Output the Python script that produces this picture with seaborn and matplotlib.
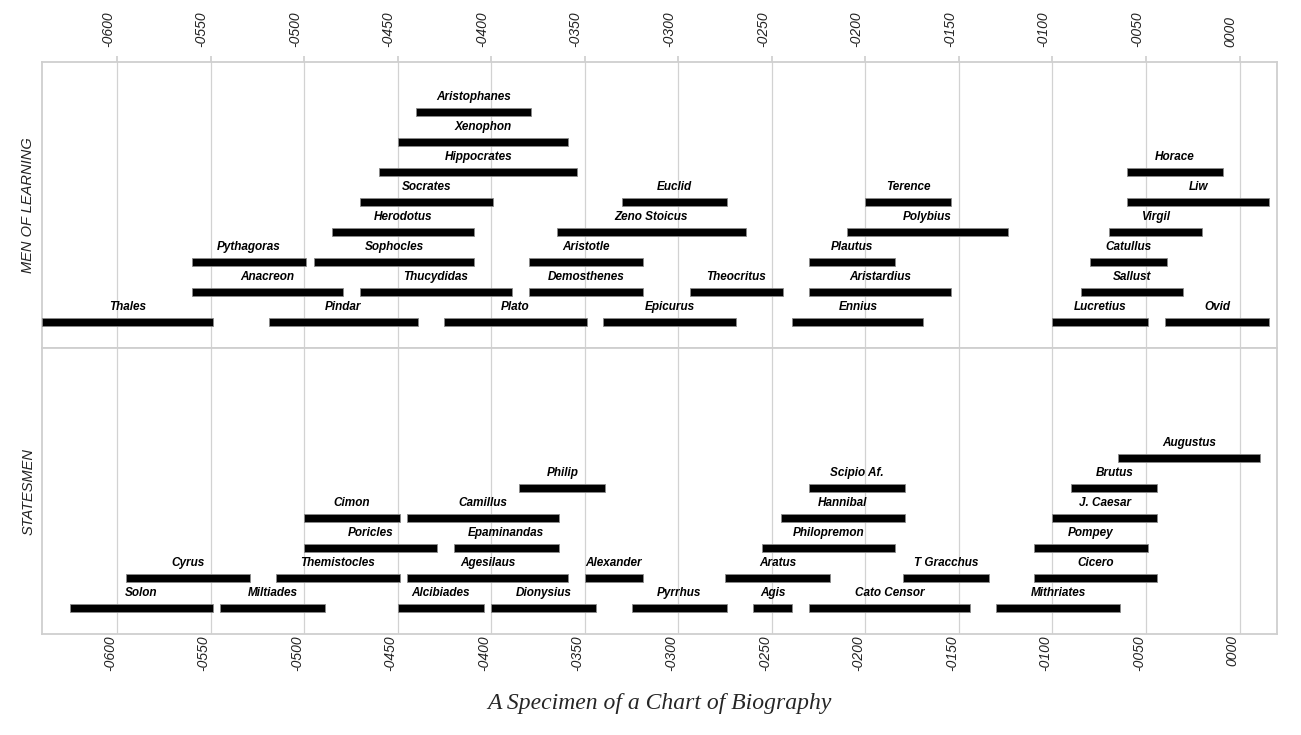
"""Priestley-style chart of biography: lifespans stacked in two bands."""
import matplotlib

matplotlib.use("Agg")
import matplotlib.pyplot as plt
import pandas as pd
import seaborn as sns
from matplotlib.transforms import ScaledTranslation

# --- data: years (negative = BC) and stacking level inside each band ---
learning_names = [
    "Thales", "Pindar", "Plato", "Epicurus", "Ennius", "Lucretius", "Ovid",
    "Anacreon", "Thucydidas", "Demosthenes", "Theocritus", "Aristardius", "Sallust",
    "Pythagoras", "Sophocles", "Aristotle", "Plautus", "Catullus",
    "Herodotus", "Zeno Stoicus", "Polybius", "Virgil",
    "Socrates", "Euclid", "Terence", "Liw",
    "Hippocrates", "Horace",
    "Xenophon",
    "Aristophanes",
]
learning_start = [
    -640, -519, -425, -340, -239, -100, -40,
    -560, -470, -380, -294, -230, -85,
    -560, -495, -380, -230, -80,
    -485, -365, -210, -70,
    -470, -330, -200, -60,
    -460, -60,
    -450,
    -440,
]
learning_end = [
    -549, -439, -349, -269, -169, -49, 16,
    -479, -389, -319, -244, -154, -30,
    -499, -409, -319, -184, -39,
    -409, -264, -124, -20,
    -399, -274, -154, 16,
    -354, -9,
    -359,
    -379,
]
learning_level = [
    0, 0, 0, 0, 0, 0, 0,
    1, 1, 1, 1, 1, 1,
    2, 2, 2, 2, 2,
    3, 3, 3, 3,
    4, 4, 4, 4,
    5, 5,
    6,
    7,
]

statesmen_names = [
    "Solon", "Miltiades", "Alcibiades", "Dionysius", "Pyrrhus", "Agis",
    "Cato Censor", "Mithriates",
    "Cyrus", "Themistocles", "Agesilaus", "Alexander", "Aratus", "T Gracchus", "Cicero",
    "Poricles", "Epaminandas", "Philopremon", "Pompey",
    "Cimon", "Camillus", "Hannibal", "J. Caesar",
    "Philip", "Scipio Af.", "Brutus",
    "Augustus",
]
statesmen_start = [
    -625, -545, -450, -400, -325, -260, -230, -130,
    -595, -515, -445, -350, -275, -180, -110,
    -500, -420, -255, -110,
    -500, -445, -245, -100,
    -385, -230, -90,
    -65,
]
statesmen_end = [
    -549, -489, -404, -344, -274, -239, -144, -64,
    -529, -449, -359, -319, -219, -134, -44,
    -429, -364, -184, -49,
    -449, -364, -179, -44,
    -339, -179, -44,
    11,
]
statesmen_level = [
    0, 0, 0, 0, 0, 0, 0, 0,
    1, 1, 1, 1, 1, 1, 1,
    2, 2, 2, 2,
    3, 3, 3, 3,
    4, 4, 4,
    5,
]

BANDS = ["MEN OF LEARNING", "STATESMEN"]
YEAR_TICKS = list(range(-600, 1, 50))

df = pd.concat(
    [
        pd.DataFrame({"name": learning_names, "start": learning_start,
                      "end": learning_end, "level": learning_level, "band": BANDS[0]}),
        pd.DataFrame({"name": statesmen_names, "start": statesmen_start,
                      "end": statesmen_end, "level": statesmen_level, "band": BANDS[1]}),
    ],
    ignore_index=True,
)

sns.set_theme(style="white")
NARROW = ["Liberation Sans Narrow", "Liberation Sans", "DejaVu Sans"]
GRID_GREY = "#d2d2d2"


def draw_lives(data, color=None, **kws):
    ax = plt.gca()
    ax.barh(
        data["level"], data["end"] - data["start"], left=data["start"],
        height=0.25, color="black", edgecolor="#8a8a8a", linewidth=0.6, zorder=3,
    )
    for _, row in data.iterrows():
        ax.text(
            (row["start"] + row["end"]) / 2, row["level"] + 0.5, row["name"],
            ha="center", va="center", fontsize=8.5, family=NARROW,
            style="italic", weight="bold", color="black", zorder=4,
        )


g = sns.FacetGrid(
    df, row="band", row_order=BANDS, sharex=False, sharey=True,
    despine=False, height=3, aspect=4,
)
g.map_dataframe(draw_lives)
g.set_titles("")

fig = g.figure
fig.set_size_inches(13.01, 7.35)
fig.subplots_adjust(left=0.0325, right=0.9815, top=0.9156, bottom=0.1374, hspace=0)


def year_label(v):
    v = int(v)
    return ("-" if v < 0 else "") + f"{abs(v):04d}"


for i, (ax, band) in enumerate(zip(g.axes.flat, BANDS)):
    ax.set_xlim(-640, 20)
    ax.set_ylim(-0.86, 8.66)
    ax.set_yticks([])
    ax.set_xticks(YEAR_TICKS)
    ax.set_xticklabels([year_label(v) for v in YEAR_TICKS])
    ax.grid(axis="x", color=GRID_GREY, linewidth=0.9, zorder=0)
    ax.grid(axis="y", visible=False)
    ax.set_axisbelow(True)
    for sp in ax.spines.values():
        sp.set_color("#cfcfcf")
        sp.set_linewidth(1.3)
    ax.set_xlabel("")
    ax.set_ylabel(band, fontsize=10.5, family=NARROW, style="italic",
                  color="#222222", labelpad=5)

    if i == 0:
        ax.tick_params(axis="x", top=True, bottom=False, labeltop=True,
                       labelbottom=False, length=4, color="#cfcfcf", pad=7)
        shift = ScaledTranslation(-9 / 100, 0, fig.dpi_scale_trans)
        labels = [t.label2 for t in ax.xaxis.get_major_ticks()]
    else:
        ax.tick_params(axis="x", top=False, bottom=False, labeltop=False,
                       labelbottom=True, length=0, pad=1)
        shift = ScaledTranslation(-7 / 100, 0, fig.dpi_scale_trans)
        labels = [t.label1 for t in ax.xaxis.get_major_ticks()]
    for lab in labels:
        lab.set_rotation(90)
        lab.set_fontsize(10)
        lab.set_family(["Liberation Sans", "DejaVu Sans"])
        lab.set_style("italic")
        lab.set_color("#222222")
        lab.set_transform(lab.get_transform() + shift)

fig.text(0.507, 0.043, "A Specimen of a Chart of Biography", ha="center", va="center",
         fontsize=17, family=["Liberation Serif", "DejaVu Serif"], style="italic")

fig.savefig("out.png", dpi=100)
